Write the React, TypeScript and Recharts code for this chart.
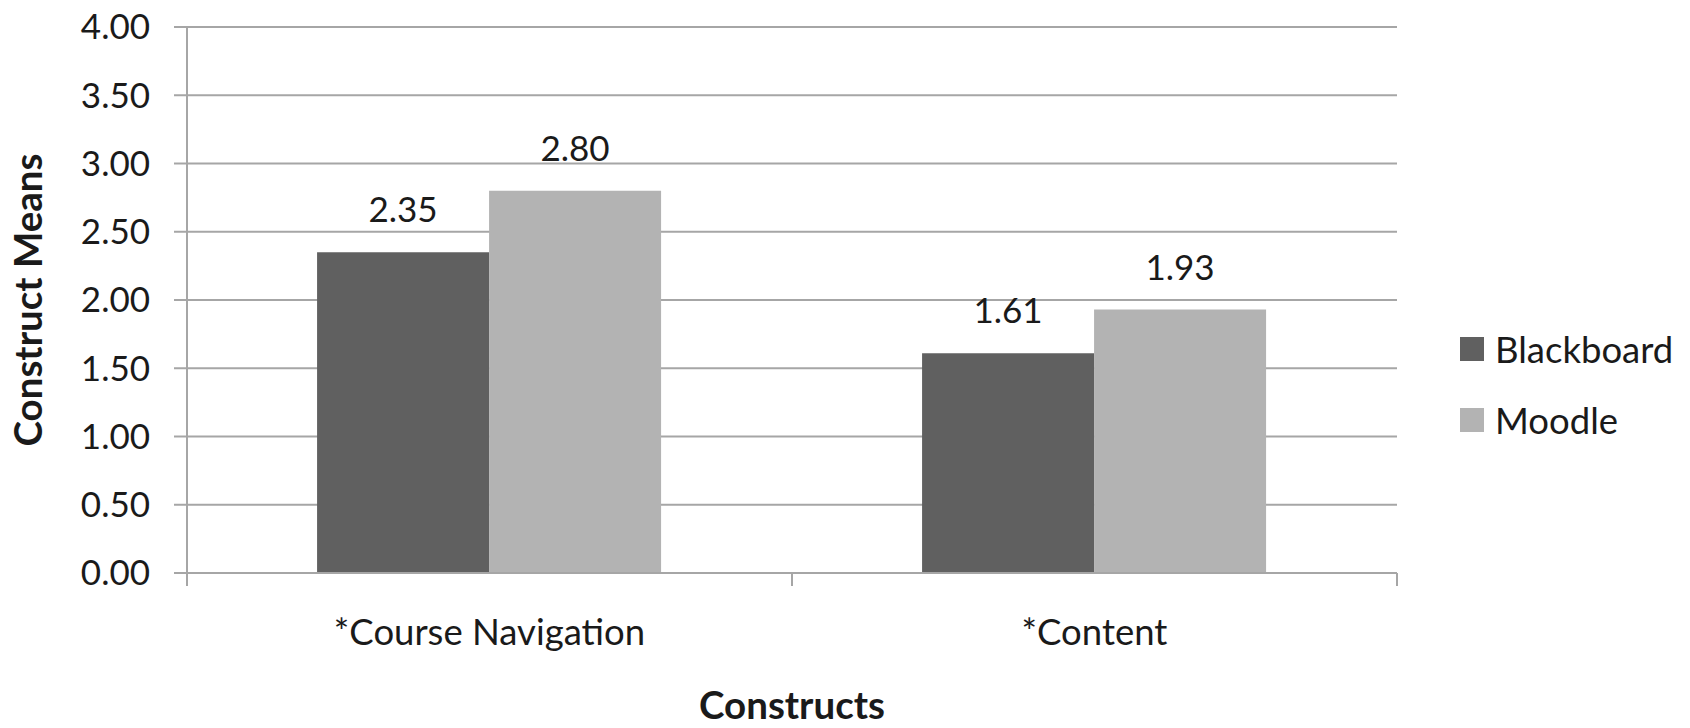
import React from 'react';
import { BarChart, Bar, XAxis, YAxis, CartesianGrid, Legend, LabelList, Label } from 'recharts';

const categories = ['*Course Navigation', '*Content'];
const blackboard = [2.35, 1.61];
const moodle = [2.8, 1.93];
const yTicks = [0, 0.5, 1, 1.5, 2, 2.5, 3, 3.5, 4];
const seriesNames = ['Blackboard', 'Moodle'];
const seriesColors = ['#606060', '#b3b3b3'];
const xTitle = 'Constructs';
const yTitle = 'Construct Means';

const data = categories.map((c, i) => ({ name: c, Blackboard: blackboard[i], Moodle: moodle[i] }));

const FONT = 'Lato, "Open Sans", sans-serif';
const FS = 35;
const FS_TEXT = 36.5;
const FS_BOLD = 38.5;
const GRID = '#a6a6a6';
const TEXT = '#1a1a1a';

function XTick(props: any) {
  const { x, y, payload, width, index } = props;
  const band = (width || 1210) / categories.length;
  const left = x - band / 2;
  const right = x + band / 2;
  return (
    <g>
      {index === 0 && <line x1={left} x2={left} y1={y} y2={y + 13} stroke={GRID} strokeWidth={2} />}
      <line x1={right} x2={right} y1={y} y2={y + 13} stroke={GRID} strokeWidth={2} />
      <text x={x} y={y + 72} textAnchor="middle" fill={TEXT} fontFamily={FONT} fontSize={FS_TEXT}>
        {payload.value}
      </text>
    </g>
  );
}

function YTitle(props: any) {
  const vb = props.viewBox || { x: 0, y: 0, width: 0, height: 0 };
  const cx = vb.x + 42;
  const cy = vb.y + vb.height / 2;
  return (
    <text x={cx} y={cy} transform={`rotate(-90 ${cx} ${cy})`} textAnchor="middle" fill={TEXT} fontFamily={FONT} fontSize={FS_BOLD} fontWeight="bold">
      {yTitle}
    </text>
  );
}

function XTitle(props: any) {
  const vb = props.viewBox || { x: 0, y: 0, width: 0, height: 0 };
  return (
    <text x={vb.x + vb.width / 2} y={vb.y + 146} textAnchor="middle" fill={TEXT} fontFamily={FONT} fontSize={FS_BOLD} fontWeight="bold">
      {xTitle}
    </text>
  );
}

function LegendContent() {
  return (
    <div style={{ fontFamily: FONT, fontSize: FS_TEXT, color: TEXT }}>
      {seriesNames.map((n, i) => (
        <div key={n} style={{ display: 'flex', alignItems: 'center', height: 71 }}>
          <span style={{ display: 'inline-block', width: 24, height: 24, background: seriesColors[i], marginRight: 11 }} />
          <span>{n}</span>
        </div>
      ))}
    </div>
  );
}

export default function App() {
  return (
    <div style={{ position: 'absolute', left: 0, top: 0, width: 1690, height: 728, background: '#fff' }}>
      <BarChart
        width={1690}
        height={728}
        data={data}
        margin={{ top: 27, right: 293, bottom: 5, left: 0 }}
        barCategoryGap="21.5%"
        barGap={0}
      >
        <CartesianGrid horizontal vertical={false} stroke={GRID} strokeWidth={2} />
        <XAxis
          dataKey="name"
          height={150}
          tickLine={false}
          tickSize={0}
          tickMargin={0}
          axisLine={{ stroke: GRID, strokeWidth: 2 }}
          tick={<XTick />}
          interval={0}
        >
          <Label content={<XTitle />} />
        </XAxis>
        <YAxis
          width={187}
          domain={[0, 4]}
          ticks={yTicks}
          interval={0}
          tickFormatter={(v: number) => v.toFixed(2)}
          tickSize={13}
          tickMargin={24}
          tickLine={{ stroke: GRID, strokeWidth: 2 }}
          axisLine={{ stroke: GRID, strokeWidth: 2 }}
          tick={{ fill: TEXT, fontFamily: FONT, fontSize: FS }}
        >
          <Label content={<YTitle />} />
        </YAxis>
        <Legend
          layout="vertical"
          align="center"
          verticalAlign="middle"
          content={<LegendContent />}
          wrapperStyle={{ left: 1460, top: 313, width: 230 }}
        />
        <Bar dataKey="Blackboard" fill={seriesColors[0]} isAnimationActive={false}>
          <LabelList dataKey="Blackboard" position="top" offset={30} formatter={(v: any) => Number(v).toFixed(2)} fill={TEXT} fontFamily={FONT} fontSize={FS} />
        </Bar>
        <Bar dataKey="Moodle" fill={seriesColors[1]} isAnimationActive={false}>
          <LabelList dataKey="Moodle" position="top" offset={30} formatter={(v: any) => Number(v).toFixed(2)} fill={TEXT} fontFamily={FONT} fontSize={FS} />
        </Bar>
      </BarChart>
    </div>
  );
}
